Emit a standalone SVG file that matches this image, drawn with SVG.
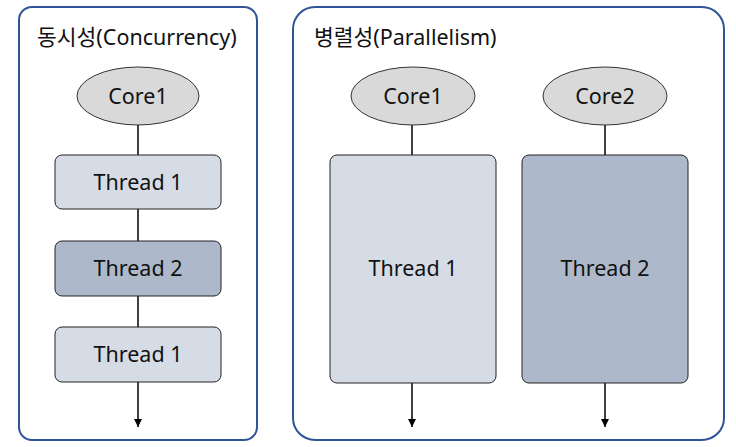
<svg xmlns="http://www.w3.org/2000/svg" width="736" height="447" viewBox="0 0 736 447">
<style>
text{font-family:"Noto Sans","Noto Sans CJK KR",sans-serif;font-size:21.5px;fill:#111;}
.c{text-anchor:middle;}
.panel{fill:#fff;stroke:#2f5597;stroke-width:2;}
.core{fill:#d9d9d9;stroke:#333;stroke-width:1;}
.t1{fill:#d6dce5;stroke:#222;stroke-width:1;}
.t2{fill:#adb9ca;stroke:#222;stroke-width:1;}
.ln{stroke:#000;stroke-width:1.5;fill:none;}
</style>
<defs>
<marker id="ah" viewBox="0 0 10 10" refX="10" refY="5" markerWidth="8" markerHeight="8" markerUnits="userSpaceOnUse" orient="auto">
<path d="M0,0 L10,5 L0,10 z" fill="#000"/>
</marker>
</defs>
<rect class="panel" x="19" y="7" width="238" height="433" rx="13"/>
<rect class="panel" x="293" y="7" width="431" height="433" rx="22"/>
<text x="37" y="45">동시성(Concurrency)</text>
<text x="314" y="45">병렬성(Parallelism)</text>
<g id="connectors">
<line class="ln" x1="138" y1="125" x2="138" y2="155"/>
<line class="ln" x1="138" y1="209" x2="138" y2="241"/>
<line class="ln" x1="138" y1="296" x2="138" y2="327"/>
<line class="ln" x1="138" y1="382" x2="138" y2="427" marker-end="url(#ah)"/>
<line class="ln" x1="412" y1="125" x2="412" y2="155"/>
<line class="ln" x1="605" y1="125" x2="605" y2="155"/>
<line class="ln" x1="412" y1="383" x2="412" y2="427" marker-end="url(#ah)"/>
<line class="ln" x1="605" y1="383" x2="605" y2="427" marker-end="url(#ah)"/>
</g>
<g id="core1-left"><ellipse class="core" cx="138" cy="96" rx="61" ry="29"/><text class="c" x="138" y="104">Core1</text></g>
<g id="thread1-a"><rect class="t1" x="55" y="155" width="166" height="54" rx="7"/><text class="c" x="138" y="190">Thread 1</text></g>
<g id="thread2-a"><rect class="t2" x="55" y="241" width="166" height="55" rx="7"/><text class="c" x="138" y="276">Thread 2</text></g>
<g id="thread1-b"><rect class="t1" x="55" y="327" width="166" height="55" rx="7"/><text class="c" x="138" y="362">Thread 1</text></g>
<g id="core1-right"><ellipse class="core" cx="413" cy="96" rx="62" ry="29"/><text class="c" x="413" y="104">Core1</text></g>
<g id="core2-right"><ellipse class="core" cx="605" cy="96" rx="62" ry="29"/><text class="c" x="605" y="104">Core2</text></g>
<g id="thread1-right"><rect class="t1" x="330" y="155" width="166" height="228" rx="7"/><text class="c" x="413" y="276">Thread 1</text></g>
<g id="thread2-right"><rect class="t2" x="522" y="155" width="166" height="228" rx="7"/><text class="c" x="605" y="276">Thread 2</text></g>
</svg>
